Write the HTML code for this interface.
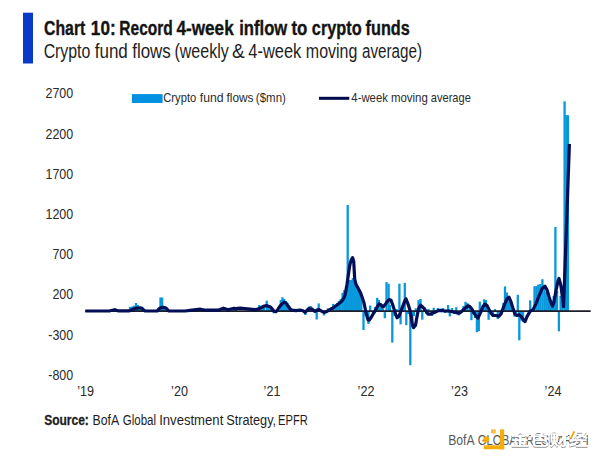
<!DOCTYPE html>
<html><head><meta charset="utf-8"><title>Chart 10: Record 4-week inflow to crypto funds</title>
<style>
html,body{margin:0;padding:0;background:#fff;}
body{width:600px;height:461px;overflow:hidden;position:relative;}
svg{position:absolute;left:0;top:0;display:block;}
text{font-family:"Liberation Sans","Noto Sans CJK SC",sans-serif;}
.ax{font-size:14px;fill:#2b2b2b;}
.t1{font-size:19.5px;font-weight:bold;fill:#141414;stroke:#141414;stroke-width:0.35px;}
.t2{font-size:19.5px;fill:#1e1e1e;}
.lg{font-size:13px;fill:#2a2a2a;}
.src{font-size:14px;fill:#1e1e1e;}
.srcb{font-size:14px;fill:#1e1e1e;font-weight:bold;stroke:#1e1e1e;stroke-width:0.3px;}
.wm{font-size:15px;fill:#5a5a5a;}
.cn{font-family:"Noto Sans CJK SC",sans-serif;font-size:16.5px;font-weight:bold;fill:#fff;}
</style></head>
<body>
<svg width="600" height="461" viewBox="0 0 600 461">
<rect x="0" y="0" width="600" height="461" fill="#fff"/>
<rect x="23" y="12.7" width="10" height="50.8" fill="#0a3ac8"/>
<rect x="131.9" y="94.1" width="30.7" height="8.9" fill="#0091e0"/>
<line x1="319" y1="98.3" x2="349.3" y2="98.3" stroke="#000a4a" stroke-width="3"/>
<text x="44.07" y="34.6" class="t1" textLength="41.22" lengthAdjust="spacingAndGlyphs">Chart</text>
<text x="90.87" y="34.6" class="t1" textLength="24.77" lengthAdjust="spacingAndGlyphs">10:</text>
<text x="119.33" y="34.6" class="t1" textLength="53.43" lengthAdjust="spacingAndGlyphs">Record</text>
<text x="176.48" y="34.6" class="t1" textLength="57.21" lengthAdjust="spacingAndGlyphs">4-week</text>
<text x="239.22" y="34.6" class="t1" textLength="48" lengthAdjust="spacingAndGlyphs">inflow</text>
<text x="291.48" y="34.6" class="t1" textLength="15.94" lengthAdjust="spacingAndGlyphs">to</text>
<text x="311.85" y="34.6" class="t1" textLength="49.77" lengthAdjust="spacingAndGlyphs">crypto</text>
<text x="365.55" y="34.6" class="t1" textLength="44.25" lengthAdjust="spacingAndGlyphs">funds</text>
<text x="43.63" y="58" class="t2" textLength="46.71" lengthAdjust="spacingAndGlyphs">Crypto</text>
<text x="94.72" y="58" class="t2" textLength="33.11" lengthAdjust="spacingAndGlyphs">fund</text>
<text x="132.23" y="58" class="t2" textLength="38.63" lengthAdjust="spacingAndGlyphs">flows</text>
<text x="174.41" y="58" class="t2" textLength="54.32" lengthAdjust="spacingAndGlyphs">(weekly</text>
<text x="232.02" y="58" class="t2" textLength="12.71" lengthAdjust="spacingAndGlyphs">&amp;</text>
<text x="248.26" y="58" class="t2" textLength="53.07" lengthAdjust="spacingAndGlyphs">4-week</text>
<text x="305.85" y="58" class="t2" textLength="51.57" lengthAdjust="spacingAndGlyphs">moving</text>
<text x="361.98" y="58" class="t2" textLength="60.04" lengthAdjust="spacingAndGlyphs">average)</text>
<text x="163.27" y="102.3" class="lg" textLength="33" lengthAdjust="spacingAndGlyphs">Crypto</text>
<text x="199.84" y="102.3" class="lg" textLength="23.75" lengthAdjust="spacingAndGlyphs">fund</text>
<text x="226.48" y="102.3" class="lg" textLength="27" lengthAdjust="spacingAndGlyphs">flows</text>
<text x="255.87" y="102.3" class="lg" textLength="29.99" lengthAdjust="spacingAndGlyphs">($mn)</text>
<text x="351.33" y="102.3" class="lg" textLength="36.6" lengthAdjust="spacingAndGlyphs">4-week</text>
<text x="390.88" y="102.3" class="lg" textLength="36.98" lengthAdjust="spacingAndGlyphs">moving</text>
<text x="430.85" y="102.3" class="lg" textLength="39.93" lengthAdjust="spacingAndGlyphs">average</text>
<text x="44.14" y="424.6" class="srcb" textLength="44.68" lengthAdjust="spacingAndGlyphs">Source:</text>
<text x="92.58" y="424.6" class="src" textLength="26.66" lengthAdjust="spacingAndGlyphs">BofA</text>
<text x="122.65" y="424.6" class="src" textLength="33.44" lengthAdjust="spacingAndGlyphs">Global</text>
<text x="159.15" y="424.6" class="src" textLength="64.14" lengthAdjust="spacingAndGlyphs">Investment</text>
<text x="226.16" y="424.6" class="src" textLength="49.96" lengthAdjust="spacingAndGlyphs">Strategy,</text>
<text x="278.03" y="424.6" class="src" textLength="29.75" lengthAdjust="spacingAndGlyphs">EPFR</text>
<text x="0" y="98.4" text-anchor="end" class="ax" transform="translate(73.2,0) scale(0.89,1)">2700</text>
<text x="0" y="138.6" text-anchor="end" class="ax" transform="translate(73.2,0) scale(0.89,1)">2200</text>
<text x="0" y="178.7" text-anchor="end" class="ax" transform="translate(73.2,0) scale(0.89,1)">1700</text>
<text x="0" y="218.8" text-anchor="end" class="ax" transform="translate(73.2,0) scale(0.89,1)">1200</text>
<text x="0" y="259" text-anchor="end" class="ax" transform="translate(73.2,0) scale(0.89,1)">700</text>
<text x="0" y="299.2" text-anchor="end" class="ax" transform="translate(73.2,0) scale(0.89,1)">200</text>
<text x="0" y="339.6" text-anchor="end" class="ax" transform="translate(73.2,0) scale(0.89,1)">-300</text>
<text x="0" y="379.8" text-anchor="end" class="ax" transform="translate(73.2,0) scale(0.89,1)">-800</text>
<text x="0" y="396.3" text-anchor="middle" class="ax" transform="translate(85.6,0) scale(0.9,1)">’19</text>
<text x="0" y="396.3" text-anchor="middle" class="ax" transform="translate(179.5,0) scale(0.9,1)">’20</text>
<text x="0" y="396.3" text-anchor="middle" class="ax" transform="translate(272,0) scale(0.9,1)">’21</text>
<text x="0" y="396.3" text-anchor="middle" class="ax" transform="translate(366,0) scale(0.9,1)">’22</text>
<text x="0" y="396.3" text-anchor="middle" class="ax" transform="translate(459.5,0) scale(0.9,1)">’23</text>
<text x="0" y="396.3" text-anchor="middle" class="ax" transform="translate(553,0) scale(0.9,1)">’24</text>
<g fill="#0898dc">
<rect x="113.55" y="308.3" width="2.3" height="2.8"/>
<rect x="128.85" y="307" width="2.3" height="4.1"/>
<rect x="130.85" y="306.5" width="2.3" height="4.6"/>
<rect x="132.85" y="305.7" width="2.3" height="5.4"/>
<rect x="134.85" y="303" width="2.3" height="8.1"/>
<rect x="136.55" y="305" width="2.3" height="6.1"/>
<rect x="138.35" y="307" width="2.3" height="4.1"/>
<rect x="139.85" y="307.5" width="2.3" height="3.6"/>
<rect x="159.35" y="297.4" width="2.3" height="13.7"/>
<rect x="160.95" y="297.6" width="2.3" height="13.5"/>
<rect x="162.85" y="306" width="2.3" height="5.1"/>
<rect x="164.65" y="308" width="2.3" height="3.1"/>
<rect x="199.35" y="308.2" width="2.3" height="2.9"/>
<rect x="222.35" y="307.2" width="2.3" height="3.9"/>
<rect x="232.85" y="307" width="2.3" height="4.1"/>
<rect x="234.85" y="307.5" width="2.3" height="3.6"/>
<rect x="258.15" y="305" width="2.3" height="6.1"/>
<rect x="260.85" y="307" width="2.3" height="4.1"/>
<rect x="262.85" y="307.5" width="2.3" height="3.6"/>
<rect x="265.55" y="300.7" width="2.3" height="10.4"/>
<rect x="267.35" y="306" width="2.3" height="5.1"/>
<rect x="269.35" y="307.5" width="2.3" height="3.6"/>
<rect x="272.55" y="311.1" width="2.3" height="2.2"/>
<rect x="279.65" y="300" width="2.3" height="11.1"/>
<rect x="281.25" y="297.2" width="2.3" height="13.9"/>
<rect x="283.05" y="299" width="2.3" height="12.1"/>
<rect x="284.65" y="301" width="2.3" height="10.1"/>
<rect x="286.35" y="303" width="2.3" height="8.1"/>
<rect x="288.05" y="306" width="2.3" height="5.1"/>
<rect x="304.25" y="311.1" width="2.3" height="3.9"/>
<rect x="308.25" y="306.3" width="2.3" height="4.8"/>
<rect x="309.45" y="306" width="2.3" height="5.1"/>
<rect x="315.55" y="311.1" width="2.3" height="8.4"/>
<rect x="317.55" y="303.4" width="2.3" height="7.7"/>
<rect x="322.85" y="311.1" width="2.3" height="4.4"/>
<rect x="326.85" y="308.3" width="2.3" height="2.8"/>
<rect x="332.15" y="303.9" width="2.3" height="7.2"/>
<rect x="334.35" y="305.5" width="2.3" height="5.6"/>
<rect x="336.05" y="303" width="2.3" height="8.1"/>
<rect x="337.85" y="301" width="2.3" height="10.1"/>
<rect x="339.55" y="299" width="2.3" height="12.1"/>
<rect x="341.45" y="292.7" width="2.3" height="18.4"/>
<rect x="343.15" y="290" width="2.3" height="21.1"/>
<rect x="344.85" y="287" width="2.3" height="24.1"/>
<rect x="346.55" y="205" width="2.3" height="106.1"/>
<rect x="348.25" y="280" width="2.3" height="31.1"/>
<rect x="349.95" y="280" width="2.3" height="31.1"/>
<rect x="351.65" y="278" width="2.3" height="33.1"/>
<rect x="353.35" y="280" width="2.3" height="31.1"/>
<rect x="355.05" y="283" width="2.3" height="28.1"/>
<rect x="356.75" y="286" width="2.3" height="25.1"/>
<rect x="358.45" y="290" width="2.3" height="21.1"/>
<rect x="360.15" y="297" width="2.3" height="14.1"/>
<rect x="362.35" y="311.1" width="2.3" height="18.9"/>
<rect x="364.35" y="311.1" width="2.3" height="4.9"/>
<rect x="367.25" y="311.1" width="2.3" height="12.9"/>
<rect x="369.05" y="305.5" width="2.3" height="5.6"/>
<rect x="371.85" y="311.1" width="2.3" height="1.9"/>
<rect x="373.85" y="307" width="2.3" height="4.1"/>
<rect x="376.05" y="297.8" width="2.3" height="13.3"/>
<rect x="377.75" y="300" width="2.3" height="11.1"/>
<rect x="379.85" y="306" width="2.3" height="5.1"/>
<rect x="381.85" y="309" width="2.3" height="2.1"/>
<rect x="383.65" y="311.1" width="2.3" height="7.2"/>
<rect x="385.35" y="282" width="2.3" height="29.1"/>
<rect x="387.45" y="283.7" width="2.3" height="27.4"/>
<rect x="388.85" y="305" width="2.3" height="6.1"/>
<rect x="391.15" y="311.1" width="2.3" height="31.5"/>
<rect x="393.35" y="311.1" width="2.3" height="4.9"/>
<rect x="395.35" y="309" width="2.3" height="2.1"/>
<rect x="398.25" y="283.7" width="2.3" height="27.4"/>
<rect x="399.45" y="311.1" width="2.3" height="13.3"/>
<rect x="401.35" y="306" width="2.3" height="5.1"/>
<rect x="403.65" y="282.9" width="2.3" height="28.2"/>
<rect x="405.15" y="311.1" width="2.3" height="14.1"/>
<rect x="407.15" y="311.1" width="2.3" height="2.9"/>
<rect x="409.15" y="311.1" width="2.3" height="54.1"/>
<rect x="411.15" y="311.1" width="2.3" height="8.9"/>
<rect x="412.85" y="311.1" width="2.3" height="4.9"/>
<rect x="414.55" y="308.3" width="2.3" height="2.8"/>
<rect x="417.35" y="300.2" width="2.3" height="10.9"/>
<rect x="419.35" y="299" width="2.3" height="12.1"/>
<rect x="421.15" y="311.1" width="2.3" height="8.6"/>
<rect x="423.35" y="307" width="2.3" height="4.1"/>
<rect x="425.35" y="311.1" width="2.3" height="2.9"/>
<rect x="427.35" y="309" width="2.3" height="2.1"/>
<rect x="430.85" y="311.1" width="2.3" height="4.9"/>
<rect x="432.55" y="307.8" width="2.3" height="3.3"/>
<rect x="434.85" y="311.1" width="2.3" height="1.9"/>
<rect x="436.85" y="308" width="2.3" height="3.1"/>
<rect x="438.85" y="311.1" width="2.3" height="0.9"/>
<rect x="441.85" y="308" width="2.3" height="3.1"/>
<rect x="443.85" y="311.1" width="2.3" height="1.9"/>
<rect x="446.95" y="305" width="2.3" height="6.1"/>
<rect x="448.65" y="311.1" width="2.3" height="5.3"/>
<rect x="450.85" y="308" width="2.3" height="3.1"/>
<rect x="452.85" y="311.1" width="2.3" height="2.9"/>
<rect x="455.15" y="307.2" width="2.3" height="3.9"/>
<rect x="457.85" y="311.1" width="2.3" height="4.3"/>
<rect x="459.85" y="311.1" width="2.3" height="1.9"/>
<rect x="462.35" y="306" width="2.3" height="5.1"/>
<rect x="464.35" y="301.8" width="2.3" height="9.3"/>
<rect x="466.05" y="303" width="2.3" height="8.1"/>
<rect x="468.35" y="307" width="2.3" height="4.1"/>
<rect x="470.25" y="311.1" width="2.3" height="9.1"/>
<rect x="472.35" y="311.1" width="2.3" height="2.9"/>
<rect x="474.05" y="311.1" width="2.3" height="6.9"/>
<rect x="475.75" y="311.1" width="2.3" height="21.1"/>
<rect x="477.65" y="311.1" width="2.3" height="20.1"/>
<rect x="478.65" y="301.6" width="2.3" height="9.5"/>
<rect x="480.85" y="308" width="2.3" height="3.1"/>
<rect x="483.05" y="299.3" width="2.3" height="11.8"/>
<rect x="484.75" y="300" width="2.3" height="11.1"/>
<rect x="487.45" y="311.1" width="2.3" height="8.7"/>
<rect x="489.35" y="311.1" width="2.3" height="1.9"/>
<rect x="491.85" y="311.1" width="2.3" height="4.9"/>
<rect x="493.85" y="309" width="2.3" height="2.1"/>
<rect x="496.65" y="311.1" width="2.3" height="8"/>
<rect x="498.85" y="311.1" width="2.3" height="3.9"/>
<rect x="500.85" y="309" width="2.3" height="2.1"/>
<rect x="502.25" y="303" width="2.3" height="8.1"/>
<rect x="503.85" y="286.4" width="2.3" height="24.7"/>
<rect x="505.75" y="292.5" width="2.3" height="18.6"/>
<rect x="507.25" y="297.8" width="2.3" height="13.3"/>
<rect x="509.05" y="300" width="2.3" height="11.1"/>
<rect x="510.85" y="306.8" width="2.3" height="4.3"/>
<rect x="513.35" y="311.1" width="2.3" height="5.7"/>
<rect x="514.85" y="311.1" width="2.3" height="1.9"/>
<rect x="516.65" y="294.8" width="2.3" height="16.3"/>
<rect x="518.15" y="311.1" width="2.3" height="29.2"/>
<rect x="520.05" y="311.1" width="2.3" height="9.5"/>
<rect x="521.85" y="311.1" width="2.3" height="10.9"/>
<rect x="529.05" y="300.3" width="2.3" height="10.8"/>
<rect x="533.35" y="286.3" width="2.3" height="24.8"/>
<rect x="535.25" y="286" width="2.3" height="25.1"/>
<rect x="537.15" y="284.6" width="2.3" height="26.5"/>
<rect x="539.15" y="284" width="2.3" height="27.1"/>
<rect x="541.25" y="279.2" width="2.3" height="31.9"/>
<rect x="543.25" y="285.2" width="2.3" height="25.9"/>
<rect x="545.15" y="292" width="2.3" height="19.1"/>
<rect x="547.05" y="298" width="2.3" height="13.1"/>
<rect x="548.85" y="302" width="2.3" height="9.1"/>
<rect x="550.85" y="302.5" width="2.3" height="8.6"/>
<rect x="552.55" y="296" width="2.3" height="15.1"/>
<rect x="554.25" y="227" width="2.3" height="84.1"/>
<rect x="555.95" y="291" width="2.3" height="20.1"/>
<rect x="557.75" y="311.1" width="2.3" height="20.2"/>
<rect x="559.45" y="296" width="2.3" height="15.1"/>
<rect x="561.15" y="300" width="2.3" height="11.1"/>
<rect x="563.45" y="101.3" width="2.3" height="209.8"/>
<rect x="565.25" y="115.2" width="2.3" height="195.9"/>
<rect x="566.75" y="115.2" width="2.3" height="195.9"/>
</g>
<line x1="85.3" y1="311.1" x2="590.7" y2="311.1" stroke="#1c1c2a" stroke-width="1.6"/>
<polyline points="85.3,311 100,311 110,310.8 114.7,309.8 118,310.8 129.5,310.9 132,309.8 134,308.8 137,308.1 140,307.8 142,308.4 143.5,309.9 145,311 157.3,311 159,308.8 160.5,307.8 163,307.4 165.5,307.8 167,309 168.5,310.8 170,311 185,311 190,310.4 200.5,309.2 206,310.2 218,310.2 223.5,308.2 228,309.7 234,308.2 236,308.7 240,308.2 245,308.7 250,309.2 255,309.7 258,309.2 261,307.7 264,306.2 267,305.7 270,306.7 272,308.7 274,311.2 276,311.7 278,309.2 280,306.1 282,303.9 284,302.2 286,303 288,306.1 290,308.7 292,310.2 296,310.7 300,310 303,310.7 305,312.4 307,310.4 309,308.5 312,309 315,311.4 317,310 319,309.5 321,310.9 324,312.4 327,311.4 330,309.5 333,308 336,305.7 339,303.4 342,301 344,297.7 345.2,294.2 346,290.2 347,284.2 348,277.2 349,270.2 350,264.2 351.2,260 352.6,257.6 353.7,261.2 354.2,270.2 354.7,279.2 356,284.7 358,288 360.2,292.2 361.6,295.7 364,302.7 366,312.7 368,319.7 369.3,320.2 371,317.7 373,314.2 375,311.2 377,307.2 379,304 381,304.8 383,307.1 385,304.8 387,301.8 389,299.5 391,300.3 393,305.6 395,312.4 397,317.8 399,316.2 401,310.9 403,305.6 405,300.3 406,298.8 408,304.1 410,310.2 411,315.6 412.5,325.2 413.5,327.7 415.5,325.2 417,316.6 418.5,309 420.5,305.2 422,306.3 424,308.5 426,311.2 428,314.2 430,314.2 432,313.4 435,312.3 438,310.7 441,310.4 445,311 450,311.2 455,312.2 458,313.2 460,312.7 462,311.2 465,308.2 468,305.7 470,306.7 472,309.2 474,313.2 476,316.2 478,318.2 481,311.7 483,306.4 485,304.1 487,305.6 489,309.4 491,313.2 493,315.5 496,315.5 499,316.2 501,314 503,308.6 505,303.3 507,298.8 509,297.2 511,301.8 513,308.6 515,314 517,315.5 519,314.7 521,316.2 523,319.3 525,321.6 527,316.6 530,311.4 533,309.7 536,303.6 539,295.8 542,288.8 545,286.2 547,289.7 549,296.7 551,302.7 552.5,306.2 554,301.9 556,290.6 558,281 559,278.4 561,286.2 562.8,300.2 563.6,306.7 569.4,144" fill="none" stroke="#020e55" stroke-width="3.2" stroke-linejoin="round" stroke-linecap="butt"/>

<text x="448.19" y="444.7" class="wm" textLength="26.46" lengthAdjust="spacingAndGlyphs">BofA</text>
<text x="477.7" y="444.7" class="wm" textLength="45.47" lengthAdjust="spacingAndGlyphs">GLOBAL</text>
<text x="525.75" y="444.7" class="wm" textLength="62.87" lengthAdjust="spacingAndGlyphs">RESEARCH</text>
<g fill="#f5aa00" opacity="0.95">
<rect x="500" y="429.2" width="4.2" height="20.1" rx="0.6"/>
<rect x="483.8" y="445.3" width="20.4" height="4" rx="0.6"/>
<rect x="491" y="429.2" width="4.8" height="4.2" rx="0.6" fill="#f7bd3a"/>
<circle cx="486.2" cy="439.4" r="3.1"/>
</g>
<defs><filter id="sh" x="-10%" y="-30%" width="120%" height="160%">
<feMorphology in="SourceAlpha" operator="dilate" radius="0.35" result="d"/>
<feOffset in="d" dx="0.3" dy="0.8" result="o"/>
<feGaussianBlur in="o" stdDeviation="0.6" result="b"/>
<feFlood flood-color="#7a7a7a" flood-opacity="0.85"/>
<feComposite in2="b" operator="in" result="s"/>
<feMerge><feMergeNode in="s"/><feMergeNode in="SourceGraphic"/></feMerge>
</filter></defs>
<text x="510.6" y="445" class="cn" textLength="77.5" lengthAdjust="spacingAndGlyphs" filter="url(#sh)">金色财经</text>
<path d="M570.8,438.6 L574.2,431.4" stroke="#f5aa00" stroke-width="1.7"/>
</svg>
</body></html>
